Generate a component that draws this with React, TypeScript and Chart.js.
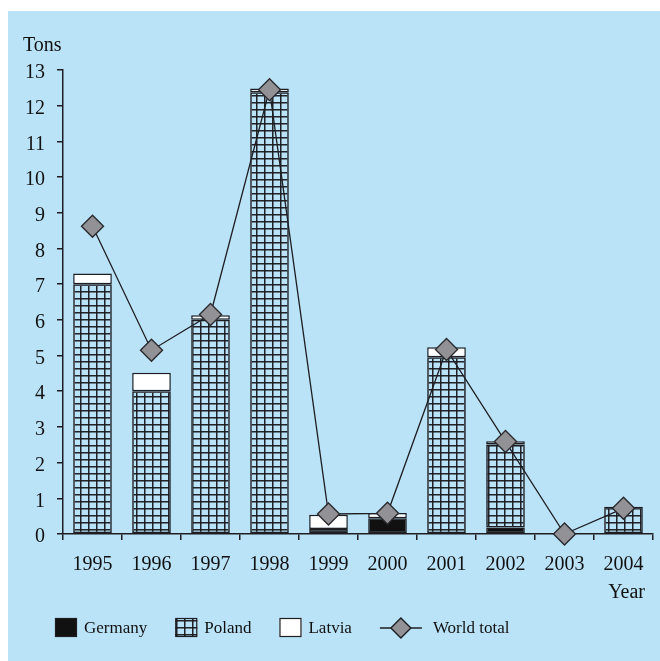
import React, { useEffect, useRef } from "react";
import { Chart, registerables } from "chart.js";

Chart.register(...registerables);

const years = ["1995", "1996", "1997", "1998", "1999", "2000", "2001", "2002", "2003", "2004"];
const germany = [null, null, null, null, 0.14, 0.44, null, 0.18, null, null];
const poland = [7.0, 4.0, 6.0, 12.38, null, null, 4.95, 2.33, null, 0.76];
const latvia = [0.3, 0.52, 0.13, 0.1, 0.4, 0.15, 0.28, 0.09, null, null];
const worldTotal = [8.62, 5.15, 6.15, 12.45, 0.56, 0.58, 5.17, 2.59, 0, 0.72];
const yTicksMax = 13;

const BG = "#BAE3F8";
const INK = "#1e1e22";
const SERIF = '"Liberation Serif", "Times New Roman", serif';

function makeGridPattern(): CanvasPattern | string {
  const c = document.createElement("canvas");
  c.width = 8;
  c.height = 7;
  const g = c.getContext("2d");
  if (!g) return "#777";
  g.fillStyle = "rgba(25,25,30,0.95)";
  g.fillRect(0, 0, 8, 1);
  g.fillRect(0, 0, 1, 7);
  g.fillStyle = "rgba(25,25,30,0.5)";
  g.fillRect(1, 0, 1, 7);
  g.fillRect(0, 1, 8, 1);
  const p = g.createPattern(c, "repeat");
  return p || "#777";
}

export default function App() {
  const ref = useRef<HTMLCanvasElement>(null);

  useEffect(() => {
    if (!ref.current) return;
    const grid = makeGridPattern();

    const textPlugin = {
      id: "extraText",
      afterDraw(chart: any) {
        const { ctx, chartArea } = chart;
        ctx.save();
        ctx.fillStyle = "#111";
        ctx.font = `20px ${SERIF}`;
        ctx.textBaseline = "alphabetic";
        ctx.textAlign = "left";
        ctx.fillText("Tons", 15, chartArea.top - 19);
        ctx.textAlign = "right";
        ctx.fillText("Year", chartArea.right - 8, chartArea.bottom + 64);

        // legend
        const cy = chartArea.bottom + 94;
        let x = chartArea.left - 8;
        ctx.font = `17px ${SERIF}`;
        ctx.textAlign = "left";
        ctx.textBaseline = "middle";
        const items = [
          { label: "Germany", fill: "#111" },
          { label: "Poland", fill: grid },
          { label: "Latvia", fill: "#ffffff" },
        ];
        for (const it of items) {
          ctx.fillStyle = it.fill as any;
          ctx.fillRect(x, cy - 10, 22, 19);
          ctx.lineWidth = 1.2;
          ctx.strokeStyle = INK;
          ctx.strokeRect(x + 0.5, cy - 9.5, 21, 18);
          ctx.fillStyle = "#111";
          ctx.fillText(it.label, x + 29, cy + 1);
          x += 29 + ctx.measureText(it.label).width + 28;
        }
        // world total
        ctx.strokeStyle = INK;
        ctx.lineWidth = 1.3;
        ctx.beginPath();
        ctx.moveTo(x, cy);
        ctx.lineTo(x + 42, cy);
        ctx.stroke();
        const dx = x + 21;
        ctx.beginPath();
        ctx.moveTo(dx - 10, cy);
        ctx.lineTo(dx, cy - 10);
        ctx.lineTo(dx + 10, cy);
        ctx.lineTo(dx, cy + 10);
        ctx.closePath();
        ctx.fillStyle = "#929196";
        ctx.fill();
        ctx.lineWidth = 1.4;
        ctx.stroke();
        ctx.fillStyle = "#111";
        ctx.fillText("World total", x + 53, cy + 1);
        ctx.restore();
      },
    };

    const barCommon = {
      type: "bar" as const,
      borderColor: INK,
      borderWidth: 1.5,
      borderSkipped: false,
      barPercentage: 0.655,
      categoryPercentage: 1,
    };

    const chart = new Chart(ref.current, {
      type: "bar",
      data: {
        labels: years,
        datasets: [
          {
            type: "line",
            label: "World total",
            data: worldTotal,
            borderColor: INK,
            borderWidth: 1.3,
            tension: 0,
            pointStyle: "rectRot",
            pointRadius: 11,
            pointBackgroundColor: "#929196",
            pointBorderColor: "#2a2a2e",
            pointBorderWidth: 1.4,
            fill: false,
            clip: false,
          } as any,
          { ...barCommon, label: "Germany", data: germany, backgroundColor: "#111" },
          { ...barCommon, label: "Poland", data: poland, backgroundColor: grid as any },
          { ...barCommon, label: "Latvia", data: latvia, backgroundColor: "#ffffff" },
        ],
      },
      options: {
        responsive: false,
        animation: false,
        layout: { autoPadding: false, padding: { top: 59, right: 7, left: 0, bottom: 0 } },
        plugins: {
          legend: { display: false },
          tooltip: { enabled: false },
          title: { display: false },
        },
        scales: {
          x: {
            stacked: true,
            offset: true,
            grid: {
              offset: true,
              drawOnChartArea: false,
              drawTicks: true,
              tickLength: 6,
              color: INK,
              lineWidth: 1.5,
            },
            border: { display: true, color: INK, width: 1.5 },
            ticks: {
              color: "#111",
              font: { family: SERIF, size: 20 },
              padding: 13,
              maxRotation: 0,
            },
            afterFit: (s: any) => {
              s.height = 127;
              s.paddingLeft = 0;
              s.paddingRight = 0;
            },
          },
          y: {
            stacked: true,
            min: 0,
            max: yTicksMax,
            grid: {
              drawOnChartArea: false,
              drawTicks: true,
              tickLength: 6,
              color: INK,
              lineWidth: 1.5,
            },
            border: { display: true, color: INK, width: 1.5 },
            ticks: {
              stepSize: 1,
              color: "#111",
              font: { family: SERIF, size: 20 },
              padding: 12,
              labelOffset: 3,
            },
            afterFit: (s: any) => {
              s.width = 55;
            },
          },
        },
      },
      plugins: [textPlugin],
    });

    return () => chart.destroy();
  }, []);

  return (
    <div
      style={{
        position: "fixed",
        left: 8,
        top: 11,
        width: 652,
        height: 650,
        background: BG,
      }}
    >
      <canvas ref={ref} width={652} height={650} style={{ display: "block" }} />
    </div>
  );
}
